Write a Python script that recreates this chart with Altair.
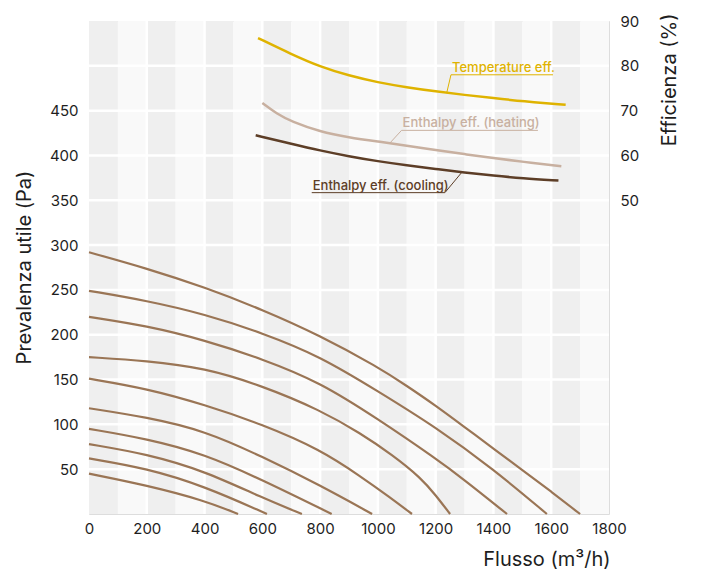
import altair as alt
import pandas as pd

# ---------------- data ----------------
FLOW_DOMAIN = [0, 1800]
PA_DOMAIN = [0, 550]
EFF_DOMAIN = [-20, 90]

x_ticks = [0, 200, 400, 600, 800, 1000, 1200, 1400, 1600, 1800]
pa_ticks = [50, 100, 150, 200, 250, 300, 350, 400, 450]
eff_ticks = [50, 60, 70, 80, 90]

stripe_starts = list(range(0, 1800, 100))
vgrid_flows = [200, 400, 600, 800, 1000, 1200, 1400, 1600]
hgrid_pa = [50, 100, 150, 200, 250, 300, 350, 400, 450, 500]

# fan curves: flow (m3/h) vs available pressure (Pa)
fan_flows = [
    [0, 200, 400, 600, 800, 1000, 1100, 1200, 1300, 1400, 1500, 1600, 1700],
    [0, 200, 400, 600, 800, 1000, 1200, 1400, 1585],
    [0, 200, 400, 600, 800, 1000, 1200, 1300, 1447],
    [0, 200, 400, 600, 800, 940, 1050, 1150, 1200, 1250],
    [0, 200, 400, 600, 800, 940, 1040, 1118],
    [0, 200, 400, 600, 800, 980],
    [0, 200, 400, 600, 840],
    [0, 200, 400, 600, 737],
    [0, 200, 400, 616],
    [0, 200, 400, 516],
]
fan_pressures = [
    [292, 274, 253, 228, 199, 164, 143, 121, 97, 73, 49, 25, 0],
    [249, 238, 223, 202, 176, 137, 97, 50, 0],
    [220, 210, 194, 173, 147, 106, 62, 38, 0],
    [175, 171, 163, 143, 116, 90, 66, 40, 21, 0],
    [151, 140, 122, 100, 72, 42, 19, 0],
    [118, 108, 93, 64, 32, 0],
    [95, 84, 67, 38, 0],
    [78, 67, 48, 18, 0],
    [62, 51, 31, 0],
    [45, 32, 15, 0],
]

# efficiency curves (%)
eff_names = ["Temperature eff.", "Enthalpy eff. (heating)", "Enthalpy eff. (cooling)"]
eff_colors = ["#dfb300", "#c8b0a0", "#5d3e27"]
temp_flow = [585, 700, 800, 900, 1000, 1100, 1200, 1300, 1400, 1500, 1650]
temp_eff = [86.2, 82.6, 79.8, 77.8, 76.3, 75.2, 74.3, 73.5, 72.8, 72.1, 71.3]
heat_flow = [600, 650, 700, 800, 900, 1000, 1100, 1200, 1300, 1400, 1500, 1635]
heat_eff = [71.7, 69.3, 67.6, 65.3, 64.0, 63.1, 62.2, 61.2, 60.3, 59.4, 58.6, 57.6]
cool_flow = [577, 700, 800, 900, 1000, 1100, 1200, 1300, 1400, 1500, 1625]
cool_eff = [64.5, 62.6, 61.1, 59.8, 58.7, 57.8, 57.0, 56.2, 55.5, 54.9, 54.4]

# callout labels (data coordinates: flow, efficiency)
label_start = [1253, 1082, 771]
label_end = [1606, 1554, 1232]
label_level = [78.0, 65.6, 51.7]
leader_from = [1253, 1082, 1232]
leader_to_flow = [1238, 1042, 1290]
leader_to_eff = [73.9, 62.8, 56.2]

FAN_COLOR = "#9a7555"
FONT = "Inter"
TEXT_COLOR = "#1e1e1e"

# ---------------- tables ----------------
stripes = pd.DataFrame({
    "x0": stripe_starts,
    "x1": [s + 100 for s in stripe_starts],
    "y0": PA_DOMAIN[0],
    "y1": PA_DOMAIN[1],
    "fill": ["#efefef" if (s // 100) % 2 == 0 else "#f9f9f9" for s in stripe_starts],
})
vgrid = pd.DataFrame({"x": vgrid_flows, "y0": PA_DOMAIN[0], "y1": PA_DOMAIN[1]})
hgrid = pd.DataFrame({"y": hgrid_pa, "x0": FLOW_DOMAIN[0], "x1": FLOW_DOMAIN[1]})

fan_rows = []
for i, (fx, fy) in enumerate(zip(fan_flows, fan_pressures)):
    for a, b in zip(fx, fy):
        fan_rows.append({"curve": i, "flow": a, "pa": b})
fan = pd.DataFrame(fan_rows)

eff_rows = []
for name, color, fx, fy in zip(eff_names, eff_colors,
                               [temp_flow, heat_flow, cool_flow],
                               [temp_eff, heat_eff, cool_eff]):
    for a, b in zip(fx, fy):
        eff_rows.append({"name": name, "color": color, "flow": a, "eff": b})
eff = pd.DataFrame(eff_rows)

labels = pd.DataFrame({
    "name": eff_names, "color": eff_colors,
    "x0": label_start, "x1": label_end, "y": label_level,
    "lx0": leader_from, "lx1": leader_to_flow, "ly1": leader_to_eff,
})

# ---------------- encodings ----------------
x_scale = alt.Scale(domain=FLOW_DOMAIN, nice=False, zero=False)
pa_scale = alt.Scale(domain=PA_DOMAIN, nice=False)
eff_scale = alt.Scale(domain=EFF_DOMAIN, nice=False)

x_axis = alt.Axis(values=x_ticks, format="d", title="Flusso (m³/h)", grid=False,
                  domain=False, ticks=False, tickSize=0, labelPadding=7,
                  labelFontSize=15, labelColor=TEXT_COLOR, titleFontSize=20,
                  titleFontWeight="normal", titleColor=TEXT_COLOR, titleX=521,
                  titleY=51, titleAlign="right", titleBaseline="alphabetic",
                  labelFlush=False, labelOverlap=False)
pa_axis = alt.Axis(values=pa_ticks, format="d", title="Prevalenza utile (Pa)",
                   orient="left", grid=False, domain=False, ticks=False, tickSize=0,
                   labelPadding=11, labelFontSize=15, labelColor=TEXT_COLOR,
                   titleFontSize=20, titleFontWeight="normal", titleColor=TEXT_COLOR,
                   titleAngle=270, titleX=-59, titleY=246, titleAlign="center",
                   titleBaseline="alphabetic")
eff_axis = alt.Axis(values=eff_ticks, format="d", title="Efficienza (%)",
                    orient="right", grid=False, domain=False, ticks=False, tickSize=0,
                    labelPadding=11, labelFontSize=15, labelColor=TEXT_COLOR,
                    titleFontSize=20, titleFontWeight="normal", titleColor=TEXT_COLOR,
                    titleAngle=270, titleX=66, titleY=-8, titleAlign="right",
                    titleBaseline="alphabetic")


def X(field):
    return alt.X(field, type="quantitative", scale=x_scale, axis=x_axis)


def YP(field):
    return alt.Y(field, type="quantitative", scale=pa_scale, axis=pa_axis)


def YE(field):
    return alt.Y(field, type="quantitative", scale=eff_scale, axis=eff_axis)


bg = alt.Chart(stripes).mark_rect(strokeWidth=0).encode(
    x=X("x0"), x2="x1", y=YP("y0"), y2="y1",
    color=alt.Color("fill:N", scale=None),
)
vlines = alt.Chart(vgrid).mark_rule(color="white", strokeWidth=2.5).encode(
    x=X("x"), y=YP("y0"), y2="y1")
hlines = alt.Chart(hgrid).mark_rule(color="white", strokeWidth=2.5).encode(
    x=X("x0"), x2="x1", y=YP("y"))
fan_lines = alt.Chart(fan).mark_line(color=FAN_COLOR, strokeWidth=2.2,
                                     interpolate="basis").encode(
    x=X("flow"), y=YP("pa"), detail="curve:N")

left = alt.layer(bg, vlines, hlines, fan_lines)

eff_lines = alt.Chart(eff).mark_line(strokeWidth=2.5, interpolate="basis").encode(
    x=X("flow"), y=YE("eff"), detail="name:N",
    color=alt.Color("color:N", scale=None))
underline = alt.Chart(labels).mark_rule(strokeWidth=1).encode(
    x=X("x0"), x2="x1", y=YE("y"), color=alt.Color("color:N", scale=None))
leader = alt.Chart(labels).mark_rule(strokeWidth=1).encode(
    x=X("lx0"), x2="lx1", y=YE("y"), y2="ly1",
    color=alt.Color("color:N", scale=None))
label_text = alt.Chart(labels).mark_text(align="left", baseline="alphabetic", dx=1,
                                         dy=-3, fontSize=13, fontWeight=500,
                                         font=FONT).encode(
    x=X("x0"), y=YE("y"), text="name:N", color=alt.Color("color:N", scale=None))

right = alt.layer(eff_lines, underline, leader, label_text)

chart = alt.layer(left, right).resolve_scale(y="independent").resolve_axis(
    y="independent"
).properties(
    width=520, height=493,
    autosize=alt.AutoSizeParams(type="none"),
    padding={"left": 81, "top": 13, "right": 100, "bottom": 56},
).configure_view(stroke=None).configure(font=FONT)

chart.save("out.html", embed_options={"renderer": "svg", "actions": False})
